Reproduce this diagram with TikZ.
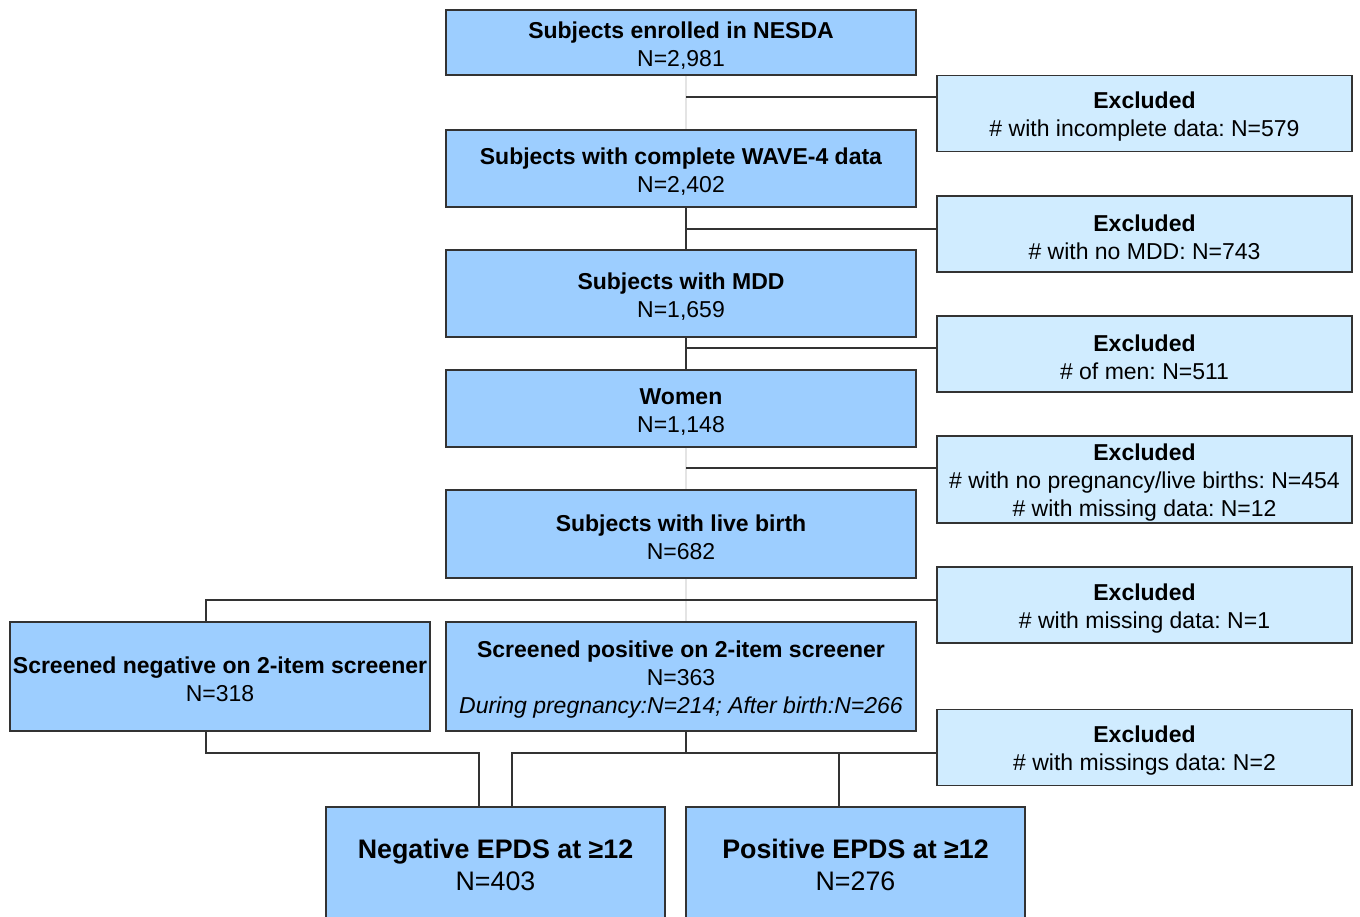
\documentclass[tikz,border=0pt]{standalone}
\usepackage{fontspec}
\setmainfont{Liberation Sans}
\usepackage{tikz}
\usetikzlibrary{positioning,calc}
\definecolor{boxblue}{RGB}{157,206,255}
\definecolor{exclblue}{RGB}{208,236,255}
\definecolor{edgegray}{RGB}{51,51,51}
\definecolor{faintgray}{RGB}{228,228,228}
\frenchspacing
\newcommand{\topgap}{\rule{0pt}{11.5pt}}

\begin{document}
\begin{tikzpicture}[
        x=0.5pt, y=-0.5pt,
        stage/.style={rectangle, draw=edgegray, fill=boxblue, line width=0.75pt, minimum width=235pt, align=center, inner sep=0pt, font=\fontsize{11.5}{14}\selectfont},
        excl/.style={rectangle, draw=edgegray, fill=exclblue, line width=0.75pt, minimum width=207.5pt, minimum height=38pt, align=center, inner sep=0pt, font=\fontsize{11.5}{14}\selectfont},
        result/.style={stage, minimum width=169.5pt, minimum height=57.5pt, font=\fontsize{13.4}{16}\selectfont},
        link/.style={draw=edgegray, line width=0.75pt},
        faint/.style={draw=faintgray, line width=0.75pt}
    ]
        \useasboundingbox (0,0) rectangle (1360,916);
        \clip (0,0) rectangle (1360,916);

        % Main stages
        \node[stage, minimum height=32.5pt] (enrolled) at (681,42.5) {\topgap\textbf{Subjects enrolled in NESDA}\\N=2,981};
        \node[stage, minimum height=38.5pt] (wave) at (681,168.5) {\topgap\textbf{Subjects with complete WAVE-4 data}\\N=2,402};
        \node[stage, minimum height=43.5pt] (mdd) at (681,293.5) {\topgap\textbf{Subjects with MDD}\\N=1,659};
        \node[stage, minimum height=38.5pt] (women) at (681,408.5) {\topgap\textbf{Women}\\N=1,148};
        \node[stage, minimum height=44pt] (livebirth) at (681,534) {\topgap\textbf{Subjects with live birth}\\N=682};
        \node[stage, minimum width=210pt, minimum height=54.5pt] (screenNeg) at (220,676.5) {\topgap\textbf{Screened negative on 2-item screener}\\N=318};
        \node[stage, minimum height=54.5pt] (screenPos) at (681,676.5) {\topgap\textbf{Screened positive on 2-item screener}\\N=363\\\textit{During pregnancy:N=214; After birth:N=266}};
        \node[result] (epdsNeg) at (495.5,864.5) {\textbf{Negative EPDS at ≥12}\\N=403};
        \node[result] (epdsPos) at (855.5,864.5) {\textbf{Positive EPDS at ≥12}\\N=276};

        % Exclusions
        \node[excl] (exclIncomplete) at (1144.5,113.5) {\topgap\textbf{Excluded}\\\# with incomplete data: N=579};
        \node[excl] (exclNoMdd) at (1144.5,234) {\topgap\textbf{Excluded}\\\# with no MDD: N=743};
        \node[excl] (exclMen) at (1144.5,354) {\topgap\textbf{Excluded}\\\# of men: N=511};
        \node[excl, minimum height=43.5pt] (exclBirth) at (1144.5,479.5) {\topgap\textbf{Excluded}\\\# with no pregnancy/live births: N=454\\\# with missing data: N=12};
        \node[excl] (exclMissing) at (1144.5,605) {\topgap\textbf{Excluded}\\\# with missing data: N=1};
        \node[excl] (exclMissings) at (1144.5,747.5) {\topgap\textbf{Excluded}\\\# with missings data: N=2};

        % Junctions
        \coordinate (sp1) at (686,97);
        \coordinate (sp2) at (686,229);
        \coordinate (sp3) at (686,348);
        \coordinate (sp4) at (686,468);
        \coordinate (sp5) at (686,600);
        \coordinate (negtop) at (206,600);
        \coordinate (negbot) at (206,753);
        \coordinate (posbot) at (686,753);

        % Spine
        \draw[faint] (enrolled.south -| sp1) -- (wave.north -| sp1);
        \draw[link] (wave.south -| sp2) -- (mdd.north -| sp2);
        \draw[link] (mdd.south -| sp3) -- (women.north -| sp3);
        \draw[faint] (women.south -| sp4) -- (livebirth.north -| sp4);
        \draw[faint] (livebirth.south -| sp5) -- (screenPos.north -| sp5);

        % Side branches
        \draw[link] (sp1) -- (sp1 -| exclIncomplete.west);
        \draw[link] (sp2) -- (sp2 -| exclNoMdd.west);
        \draw[link] (sp3) -- (sp3 -| exclMen.west);
        \draw[link] (sp4) -- (sp4 -| exclBirth.west);
        \draw[link] (screenNeg.north -| negtop) -- (negtop) -- (negtop -| exclMissing.west);

        % Towards EPDS
        \draw[link] (screenNeg.south -| negbot) -- (negbot) -| ([xshift=-8.25pt]epdsNeg.north);
        \draw[link] (screenPos.south -| posbot) -- (posbot);
        \draw[link] ([xshift=8.25pt]epdsNeg.north) |- (posbot -| exclMissings.west);
        \draw[link] ([xshift=-8.25pt]epdsPos.north) -- ([xshift=-8.25pt]epdsPos.north |- posbot);

    \end{tikzpicture}
\end{document}
